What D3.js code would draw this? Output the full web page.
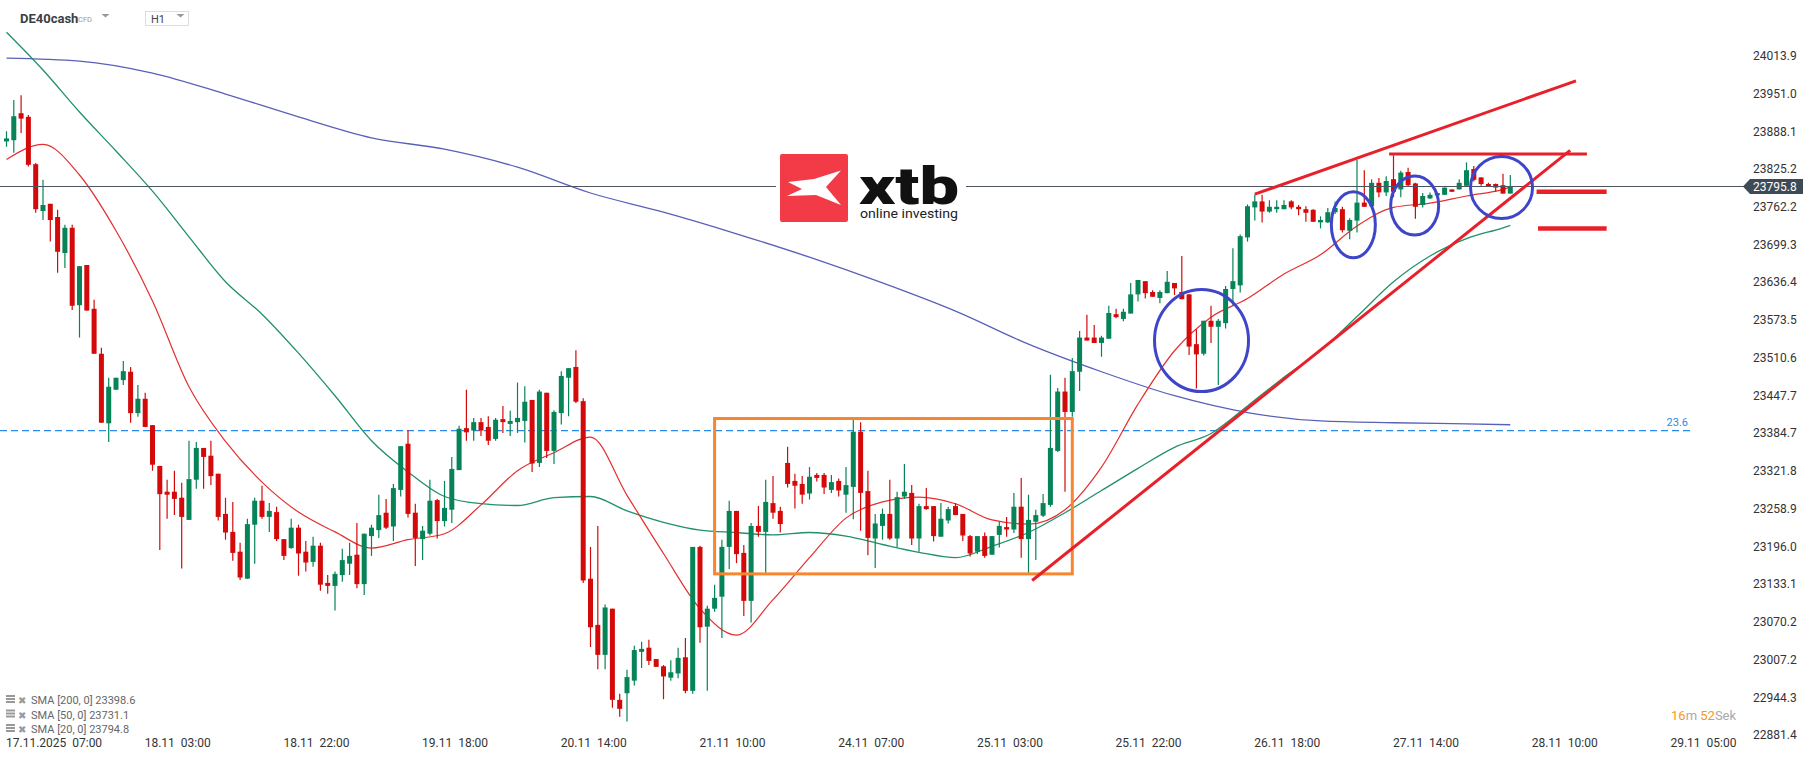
<!DOCTYPE html>
<html><head><meta charset="utf-8">
<script src="https://cdn.jsdelivr.net/npm/d3@7"></script>
<style>
html,body{margin:0;padding:0;background:#fff;}
svg{display:block;font-family:Roboto,"Noto Sans",sans-serif;}
</style></head>
<body>
<svg id="chart" width="1815" height="761"></svg>
<script>
// ---------- DATA ----------
const opens  = [23871,23873,23918,23912,23833,23755,23767,23745,23685,23727,23598,23665,23592,23517,23401,23457,23473,23487,23418,23442,
23398,23330,23287,23287,23277,23240,23307,23360,23347,23317,23250,23220,23187,23142,23232,23272,23245,23253,23208,23193,
23227,23187,23170,23197,23135,23130,23148,23167,23182,23133,23213,23223,23252,23229,23290,23367,23252,23208,23217,23273,
23238,23257,23323,23393,23389,23403,23395,23375,23408,23400,23403,23405,23440,23335,23452,23355,23418,23477,23495,23438,
23142,23065,23015,23092,22940,22951,22972,23020,23027,23008,22996,22977,22984,23011,22955,23195,23062,23092,23112,23195,
23255,23185,23105,23230,23220,23268,23255,23335,23305,23300,23284,23315,23315,23290,23305,23282,23295,23387,23288,23209,
23230,23250,23209,23279,23285,23209,23263,23263,23212,23239,23263,23250,23213,23187,23213,23182,23215,23228,23224,23262,
23208,23237,23247,23265,23355,23454,23420,23487,23544,23544,23535,23542,23583,23575,23584,23616,23638,23620,23610,23618,
23635,23620,23616,23533,23517,23572,23562,23568,23625,23631,23711,23761,23771,23754,23758,23758,23771,23762,23758,23757,
23736,23736,23753,23758,23722,23739,23769,23763,23802,23786,23808,23791,23820,23801,23765,23776,23781,23782,23791,23791,
23797,23825,23811,23800,23800,23798,23784];
const highs  = [23888,23940,23948,23915,23835,23807,23767,23757,23732,23732,23663,23665,23607,23527,23477,23477,23505,23495,23465,23452,
23398,23330,23307,23322,23302,23372,23370,23360,23372,23317,23277,23270,23202,23242,23277,23297,23268,23262,23208,23242,
23232,23205,23212,23202,23148,23154,23192,23202,23235,23217,23232,23282,23275,23300,23363,23390,23267,23230,23307,23275,
23305,23345,23397,23457,23410,23410,23413,23410,23430,23422,23469,23463,23440,23457,23452,23423,23488,23493,23523,23443,
23195,23230,23099,23092,22950,22990,23030,23037,23040,23008,22998,23006,23027,23043,23195,23197,23097,23132,23207,23272,
23255,23198,23235,23263,23307,23313,23262,23362,23317,23313,23328,23318,23318,23315,23309,23328,23407,23403,23322,23250,
23259,23307,23287,23333,23298,23267,23293,23263,23268,23262,23268,23250,23215,23213,23219,23213,23237,23245,23285,23310,
23282,23257,23283,23482,23460,23477,23510,23555,23582,23565,23547,23597,23592,23592,23635,23640,23638,23623,23623,23655,
23635,23680,23616,23558,23572,23597,23575,23630,23693,23716,23766,23782,23782,23773,23773,23773,23773,23765,23763,23758,
23746,23760,23771,23762,23743,23840,23823,23808,23810,23813,23848,23822,23827,23802,23785,23786,23785,23794,23791,23808,
23836,23830,23811,23802,23801,23817,23815];
const lows   = [23862,23852,23885,23829,23752,23740,23704,23652,23660,23590,23544,23589,23517,23402,23370,23457,23465,23402,23412,23395,
23322,23190,23242,23248,23159,23240,23292,23292,23298,23239,23207,23172,23140,23142,23167,23242,23220,23205,23173,23192,
23147,23154,23162,23122,23117,23089,23137,23148,23126,23115,23180,23210,23225,23205,23279,23244,23163,23173,23214,23209,
23229,23235,23323,23372,23372,23380,23365,23372,23385,23380,23385,23369,23320,23328,23343,23333,23399,23413,23435,23135,
23028,22991,22991,22927,22912,22904,22964,22993,22998,22995,22941,22972,22976,22951,22950,23035,22955,23087,23043,23158,
23168,23080,23069,23212,23152,23242,23219,23294,23259,23267,23274,23304,23283,23285,23279,23252,23241,23222,23181,23160,
23207,23207,23195,23275,23198,23187,23257,23204,23212,23234,23248,23205,23179,23183,23177,23182,23194,23212,23218,23177,
23151,23173,23245,23262,23353,23287,23412,23455,23539,23535,23512,23542,23576,23571,23584,23604,23609,23612,23601,23618,
23615,23608,23515,23459,23514,23535,23465,23559,23598,23619,23704,23739,23736,23752,23752,23758,23758,23748,23737,23737,
23726,23735,23750,23719,23708,23719,23762,23763,23778,23780,23778,23778,23796,23742,23761,23775,23781,23782,23787,23791,
23797,23804,23797,23795,23787,23784,23784];
const closes = [23876,23913,23909,23832,23758,23765,23740,23687,23727,23597,23663,23589,23517,23402,23462,23477,23488,23418,23442,23395,
23332,23283,23282,23275,23245,23308,23360,23345,23313,23245,23219,23185,23144,23233,23272,23245,23255,23208,23180,23227,
23184,23169,23197,23132,23130,23150,23173,23180,23133,23217,23227,23248,23227,23293,23363,23250,23210,23222,23272,23238,
23260,23325,23392,23386,23403,23389,23372,23407,23403,23405,23410,23437,23334,23454,23355,23420,23480,23493,23437,23139,
23061,23015,23094,22940,22925,22978,23023,23025,23005,22995,22979,22986,23010,22955,23195,23061,23092,23110,23195,23255,
23183,23105,23230,23220,23270,23252,23233,23300,23297,23282,23312,23310,23294,23303,23289,23298,23387,23285,23210,23234,
23250,23209,23278,23287,23209,23263,23258,23213,23242,23258,23248,23214,23184,23213,23180,23213,23230,23224,23262,23208,
23240,23248,23268,23360,23454,23420,23488,23544,23539,23535,23544,23585,23578,23587,23616,23640,23618,23612,23620,23637,
23626,23608,23529,23516,23572,23562,23572,23625,23638,23713,23763,23771,23754,23762,23762,23765,23761,23758,23752,23737,
23740,23753,23760,23723,23740,23769,23762,23802,23786,23805,23787,23819,23798,23762,23780,23782,23785,23794,23787,23802,
23823,23807,23800,23795,23794,23784,23795.8];

// moving averages at every 5th candle (last point = final candle)
const smaIdx = [0,5,10,15,20,25,30,35,40,45,50,55,60,65,70,75,80,85,90,95,100,105,110,115,120,125,130,135,140,145,150,155,160,165,170,175,180,185,190,195,200,205,206];
const sma20 = [23841,23866,23815,23722,23605,23462,23371,23303,23253,23220,23193,23207,23217,23265,23322,23352,23378,23281,23184,23092,
23048,23107,23177,23243,23270,23278,23267,23240,23233,23257,23328,23433,23522,23578,23609,23650,23682,23730,23761,23768,23780,23791,23794.8];
const sma50 = [24053,23990,23920,23855,23788,23712,23637,23583,23518,23447,23372,23320,23279,23267,23264,23277,23279,23255,23236,23223,
23219,23215,23219,23213,23199,23186,23177,23196,23219,23252,23289,23326,23361,23384,23430,23478,23522,23579,23637,23680,23709,23727,23731.1];
const sma200Idx = [0,10,20,30,40,50,60,70,80,90,100,110,120,130,140,150,160,170,180,190,200,206];
const sma200 = [24010,24005,23985,23950,23912,23877,23858,23828,23785,23753,23717,23678,23635,23588,23533,23487,23447,23419,23405,23402,23400,23398.6];

const priceTicks = [24013.9,23951.0,23888.1,23825.2,23762.2,23699.3,23636.4,23573.5,23510.6,23447.7,23384.7,23321.8,23258.9,23196.0,23133.1,23070.2,23007.2,22944.3,22881.4];
const timeTickIdx = [0,19,38,57,76,95,114,133,152,171,190,209,228];
const timeTickLabels = ["17.11.2025  07:00","18.11  03:00","18.11  22:00","19.11  18:00","20.11  14:00","21.11  10:00","24.11  07:00","25.11  03:00","25.11  22:00","26.11  18:00","27.11  14:00","28.11  10:00","29.11  05:00"];
const legendLabels = ["SMA [200, 0] 23398.6","SMA [50, 0] 23731.1","SMA [20, 0] 23794.8"];
const lastPrice = 23795.8;
const fibLevel = 23389;
const fibLabel = "23.6";
// annotations in data coordinates (candle index, price)
const boxRange = {i0:97, i1:146, p0:23150, p1:23409};
const lowerTrend = [[140.5,23139],[214.2,23856]];
const upperTrend = [[171,23783],[215,23972]];
const resistance = {i0:189.4, i1:216.5, p:23850};
const targets = [{i0:209.6, i1:219.2, p:23787},{i0:209.8, i1:219.2, p:23726}];
const circles = [{i:163.7, p:23539, rx:47, ry:51},{i:184.5, p:23732, rx:22, ry:33},{i:192.9, p:23764, rx:24, ry:29.5},{i:204.8, p:23794, rx:31, ry:31}];

// ---------- SCALES ----------
const svg = d3.select("#chart");
const x = d3.scaleLinear().domain([0,228]).range([6.5, 6.5+228*7.3]);
const y = d3.scaleLinear().domain([22881.4, 24013.9]).range([735, 55.7]);
const GREEN = "#078457", RED = "#d40a0a";

// fib dashed line
svg.append("line").attr("x1",0).attr("x2",1690).attr("y1",y(fibLevel)).attr("y2",y(fibLevel))
  .attr("stroke","#2a8be6").attr("stroke-width",1.2).attr("stroke-dasharray","7,4");
svg.append("text").attr("x",1688).attr("y",y(fibLevel)-5).attr("text-anchor","end")
  .attr("font-size",11).attr("fill","#2a8be6").text(fibLabel);

// SMA lines
const line = d3.line().curve(d3.curveMonotoneX);
function drawSma(idx, vals, color, w){
  svg.append("path").attr("d", line(idx.map((d,k)=>[x(d), y(vals[k])])))
    .attr("fill","none").attr("stroke",color).attr("stroke-width",w);
}
drawSma(sma200Idx, sma200, "#5960b8", 1.3);
drawSma(smaIdx, sma50, "#20916a", 1.3);
drawSma(smaIdx, sma20, "#e3302f", 1.2);

// candles
const cg = svg.append("g");
const idx = d3.range(opens.length);
cg.selectAll("line.w").data(idx).join("line")
  .attr("x1",i=>x(i)).attr("x2",i=>x(i))
  .attr("y1",i=>y(highs[i])).attr("y2",i=>y(lows[i]))
  .attr("stroke",i=>closes[i]>=opens[i]?GREEN:RED).attr("stroke-width",1.2);
cg.selectAll("rect.b").data(idx).join("rect")
  .attr("x",i=>x(i)-2.5).attr("width",5)
  .attr("y",i=>y(Math.max(opens[i],closes[i])))
  .attr("height",i=>Math.max(1.5, Math.abs(y(opens[i])-y(closes[i]))))
  .attr("fill",i=>closes[i]>=opens[i]?GREEN:RED);

// current price line
svg.append("line").attr("x1",0).attr("x2",1744).attr("y1",y(lastPrice)).attr("y2",y(lastPrice))
  .attr("stroke","#4d5660").attr("stroke-width",1.2);

// orange consolidation box
svg.append("rect").attr("x",x(boxRange.i0)).attr("y",y(boxRange.p1))
  .attr("width",x(boxRange.i1)-x(boxRange.i0)).attr("height",y(boxRange.p0)-y(boxRange.p1))
  .attr("fill","none").attr("stroke","#f7862e").attr("stroke-width",3);

// red trend lines
const RL = "#e8202a";
[lowerTrend, upperTrend].forEach(t=>{
  svg.append("line").attr("x1",x(t[0][0])).attr("y1",y(t[0][1])).attr("x2",x(t[1][0])).attr("y2",y(t[1][1]))
    .attr("stroke",RL).attr("stroke-width",3);
});
svg.append("line").attr("x1",x(resistance.i0)).attr("x2",x(resistance.i1)).attr("y1",y(resistance.p)).attr("y2",y(resistance.p))
  .attr("stroke",RL).attr("stroke-width",3);
targets.forEach(t=>{
  svg.append("line").attr("x1",x(t.i0)).attr("x2",x(t.i1)).attr("y1",y(t.p)).attr("y2",y(t.p))
    .attr("stroke",RL).attr("stroke-width",4.5);
});
// blue circles
circles.forEach(c=>{
  svg.append("ellipse").attr("cx",x(c.i)).attr("cy",y(c.p)).attr("rx",c.rx).attr("ry",c.ry)
    .attr("fill","none").attr("stroke","#3e45c8").attr("stroke-width",3);
});

// logo
const lg = svg.append("g");
lg.append("rect").attr("x",776).attr("y",150).attr("width",190).attr("height",76).attr("fill","#fff");
lg.append("rect").attr("x",780).attr("y",154).attr("width",68).attr("height",68).attr("rx",2).attr("fill","#f23b47");
lg.append("polygon").attr("points","788,182 814,179 841,170.5 826,187 841,205 816,195 787,196 802,189").attr("fill","#fff");
lg.append("text").attr("x",859).attr("y",204).attr("font-size",52).attr("font-weight",900)
  .attr("textLength",100).attr("lengthAdjust","spacingAndGlyphs").attr("fill","#111").text("xtb");
lg.append("text").attr("x",860).attr("y",218).attr("font-size",13)
  .attr("textLength",98).attr("lengthAdjust","spacingAndGlyphs").attr("fill","#222").text("online investing");

// price axis
const ya = svg.append("g").attr("transform","translate(1753,0)")
  .call(d3.axisRight(y).tickValues(priceTicks).tickFormat(d3.format(".1f")).tickSize(0).tickPadding(0));
ya.select(".domain").remove();
ya.selectAll("text").attr("font-size",12).attr("fill","#333").attr("font-family","Roboto");

// last price tag
const ly = y(lastPrice);
svg.append("path").attr("d",`M1743,${ly} L1750,${ly-7.5} L1803,${ly-7.5} L1803,${ly+7.5} L1750,${ly+7.5} Z`).attr("fill","#3d4b57");
svg.append("text").attr("x",1753).attr("y",ly+4.3).attr("font-size",12).attr("fill","#fff").text(d3.format(".1f")(lastPrice));

// time axis
const xa = svg.append("g").attr("transform","translate(0,738)")
  .call(d3.axisBottom(x).tickValues(timeTickIdx).tickFormat((d,k)=>timeTickLabels[k]).tickSize(0).tickPadding(0));
xa.select(".domain").remove();
xa.selectAll("text").attr("font-size",12).attr("fill","#333").attr("font-family","Roboto")
  .attr("text-anchor","start").attr("dx",-1).attr("dy","0.71em").style("white-space","pre");

// legend
legendLabels.forEach((t,k)=>{
  const yy = 700 + k*14.5;
  const g = svg.append("g");
  g.append("rect").attr("x",6).attr("y",yy-5).attr("width",9).attr("height",2).attr("fill","#999");
  g.append("rect").attr("x",6).attr("y",yy-2).attr("width",9).attr("height",2).attr("fill","#999");
  g.append("rect").attr("x",6).attr("y",yy+1).attr("width",9).attr("height",2).attr("fill","#999");
  g.append("text").attr("x",18).attr("y",yy+4).attr("font-size",10).attr("fill","#999").attr("font-family","DejaVu Sans").text("\u2716");
  g.append("text").attr("x",31).attr("y",yy+4).attr("font-size",11).attr("fill","#666").text(t);
});

// header
svg.append("text").attr("x",20).attr("y",23).attr("font-size",13).attr("font-weight",700).attr("fill","#3a3f44").text("DE40cash");
svg.append("text").attr("x",78).attr("y",22).attr("font-size",7.5).attr("fill","#999").text("CFD");
svg.append("path").attr("d","M101.5,14 L109.5,14 L105.5,17.5 Z").attr("fill","#999");
svg.append("rect").attr("x",145.5).attr("y",11.5).attr("width",43).attr("height",14).attr("fill","#fff").attr("stroke","#ddd");
svg.append("text").attr("x",151).attr("y",23).attr("font-size",11).attr("fill","#444").text("H1");
svg.append("path").attr("d","M176.5,14 L184.5,14 L180.5,17.5 Z").attr("fill","#999");

// countdown
const cd = svg.append("text").attr("x",1671).attr("y",720).attr("font-size",13);
cd.append("tspan").attr("fill","#f59a14").text("16");
cd.append("tspan").attr("fill","#aaa").text("m ");
cd.append("tspan").attr("fill","#f59a14").text("52");
cd.append("tspan").attr("fill","#aaa").text("Sek");
</script>
</body></html>
